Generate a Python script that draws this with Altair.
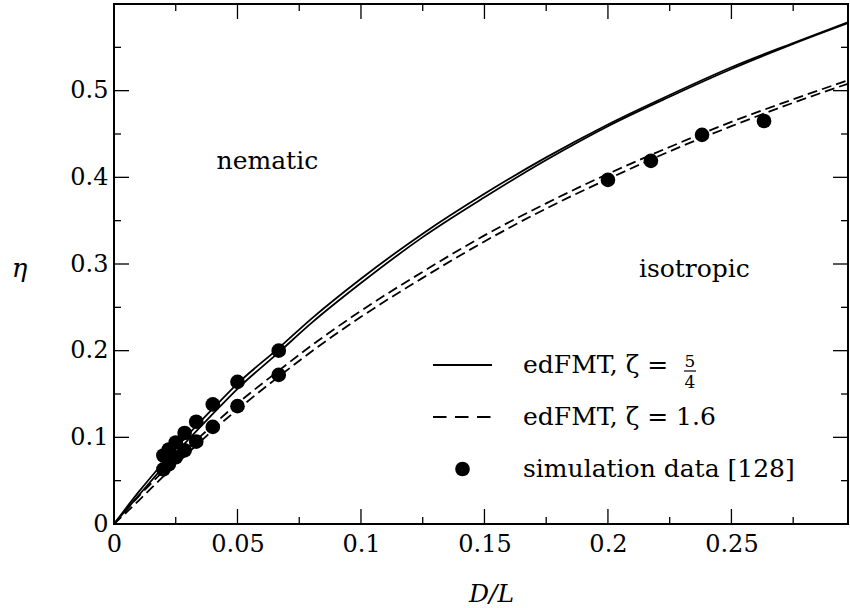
import altair as alt
import pandas as pd

# ---------------- data ----------------
x_grid = [0, 0.01, 0.02, 0.03, 0.04, 0.05, 0.0667, 0.08, 0.1, 0.125, 0.15,
          0.175, 0.2, 0.225, 0.25, 0.275, 0.2972]
solid_upper = [0, 0.037, 0.071, 0.103, 0.133, 0.162, 0.203, 0.237, 0.283, 0.335,
               0.381, 0.423, 0.461, 0.495, 0.527, 0.555, 0.579]
solid_lower = [0, 0.033, 0.066, 0.097, 0.127, 0.156, 0.198, 0.232, 0.278, 0.331,
               0.377, 0.420, 0.459, 0.493, 0.525, 0.554, 0.578]
dashed_upper = [0, 0.032, 0.061, 0.088, 0.114, 0.139, 0.177, 0.206, 0.246, 0.291,
                0.333, 0.370, 0.404, 0.435, 0.464, 0.490, 0.512]
dashed_lower = [0, 0.027, 0.055, 0.082, 0.108, 0.132, 0.170, 0.199, 0.239, 0.284,
                0.326, 0.364, 0.398, 0.430, 0.459, 0.486, 0.508]

sim_x = [0.0667, 0.05, 0.04, 0.0333, 0.0286, 0.025, 0.0222, 0.02,
         0.0667, 0.05, 0.04, 0.0333, 0.0286, 0.025, 0.0222, 0.02,
         0.2, 0.2174, 0.2381, 0.2632]
sim_y = [0.200, 0.164, 0.138, 0.118, 0.105, 0.094, 0.086, 0.079,
         0.172, 0.136, 0.112, 0.095, 0.085, 0.077, 0.069, 0.063,
         0.397, 0.419, 0.449, 0.465]

x_major = [0, 0.05, 0.1, 0.15, 0.2, 0.25]
x_minor = [0.025, 0.075, 0.125, 0.175, 0.225, 0.275]
y_major = [0, 0.1, 0.2, 0.3, 0.4, 0.5]
y_minor = [0.05, 0.15, 0.25, 0.35, 0.45, 0.55]

legend_labels = ["edFMT, ζ =", "edFMT, ζ = 1.6", "simulation data [128]"]
region_labels = ["nematic", "isotropic"]
region_x = [0.0621, 0.235]
region_y = [0.41, 0.285]

# ---------------- layout ----------------
W, H = 734, 520
FONT = "DejaVu Serif"
X_MAX = 0.2972

xs = alt.Scale(domain=[0, X_MAX], nice=False, zero=False)
ys = alt.Scale(domain=[0, 0.6], nice=False, zero=False)

xaxis = alt.Axis(values=x_major, format="~g", title="D/L", ticks=False, tickSize=0,
                 domain=False, grid=False, labelFont=FONT, labelFontSize=24,
                 labelColor="black", labelPadding=8, labelFlush=False,
                 labelOverlap=False, titleFont=FONT, titleFontSize=25,
                 titleFontStyle="italic", titleFontWeight="normal",
                 titleColor="black", titleY=77, titleX=377,
                 titleBaseline="alphabetic", titleAlign="center")
yaxis = alt.Axis(values=y_major, format="~g", title="η", ticks=False, tickSize=0,
                 domain=False, grid=False, labelFont=FONT, labelFontSize=24,
                 labelColor="black", labelPadding=6, labelFlush=False,
                 labelOverlap=False, titleFont=FONT, titleFontSize=26,
                 titleFontStyle="italic", titleFontWeight="normal",
                 titleColor="black", titleAngle=0, titleX=-95, titleY=264,
                 titleAlign="center", titleBaseline="middle")


def X(field):
    return alt.X(field, type="quantitative", scale=xs, axis=xaxis)


def Y(field):
    return alt.Y(field, type="quantitative", scale=ys, axis=yaxis)


curves = pd.DataFrame({
    "x": x_grid * 4,
    "y": solid_upper + solid_lower + dashed_upper + dashed_lower,
    "series": (["su"] * len(x_grid) + ["sl"] * len(x_grid)
               + ["du"] * len(x_grid) + ["dl"] * len(x_grid)),
})
solid_df = curves[curves.series.isin(["su", "sl"])]
dashed_df = curves[curves.series.isin(["du", "dl"])]

solid = alt.Chart(solid_df).mark_line(
    color="black", strokeWidth=1.8, interpolate="monotone", clip=True
).encode(x=X("x"), y=Y("y"), detail="series:N")

dashed = alt.Chart(dashed_df).mark_line(
    color="black", strokeWidth=1.8, interpolate="monotone", strokeDash=[10, 5], clip=True
).encode(x=X("x"), y=Y("y"), detail="series:N")

sim = alt.Chart(pd.DataFrame({"x": sim_x, "y": sim_y})).mark_point(
    shape="circle", filled=True, color="black", size=215, opacity=1
).encode(x=X("x"), y=Y("y"))

# ---- inward ticks on all four sides ----
xmaj = pd.DataFrame({"v": x_major})
xmin = pd.DataFrame({"v": x_minor})
ymaj = pd.DataFrame({"v": y_major})
ymin = pd.DataFrame({"v": y_minor})

def xticks(df, length):
    b = alt.Chart(df).mark_rule(color="black", strokeWidth=1.3).encode(
        x=X("v"), y=alt.value(H), y2=alt.value(H - length))
    t = alt.Chart(df).mark_rule(color="black", strokeWidth=1.3).encode(
        x=X("v"), y=alt.value(0), y2=alt.value(length))
    return [b, t]

def yticks(df, length):
    l = alt.Chart(df).mark_rule(color="black", strokeWidth=1.3).encode(
        y=Y("v"), x=alt.value(0), x2=alt.value(length))
    r = alt.Chart(df).mark_rule(color="black", strokeWidth=1.3).encode(
        y=Y("v"), x=alt.value(W), x2=alt.value(W - length))
    return [l, r]

tick_layers = xticks(xmaj, 15) + xticks(xmin, 7) + yticks(ymaj, 15) + yticks(ymin, 7)

# ---- region labels ----
regions = alt.Chart(pd.DataFrame({"x": region_x, "y": region_y, "t": region_labels})).mark_text(
    font=FONT, fontSize=25, color="black", align="center", baseline="alphabetic"
).encode(x=X("x"), y=Y("y"), text="t:N")

# ---- manual legend ----
one = pd.DataFrame({"a": [0]})
LX0, LX1 = 319, 378
TX = 409
rows = [361, 413, 465]
base = [369, 421, 473]

leg_solid = alt.Chart(one).mark_rule(color="black", strokeWidth=1.8).encode(
    x=alt.value(LX0), x2=alt.value(LX1), y=alt.value(rows[0]))
leg_dash = alt.Chart(one).mark_rule(color="black", strokeWidth=1.8, strokeDash=[13.5, 8.5]).encode(
    x=alt.value(LX0), x2=alt.value(LX1), y=alt.value(rows[1]))
leg_dot = alt.Chart(one).mark_point(shape="circle", filled=True, color="black", size=215, opacity=1).encode(
    x=alt.value((LX0 + LX1) / 2), y=alt.value(rows[2]))

leg_text = alt.Chart(pd.DataFrame({"t": legend_labels, "yy": base})).mark_text(
    font=FONT, fontSize=25, color="black", align="left", baseline="alphabetic"
).encode(x=alt.value(TX), y=alt.Y("yy:Q", scale=None), text="t:N")

FX = 576
frac_num = alt.Chart(pd.DataFrame({"t": ["5"]})).mark_text(
    font=FONT, fontSize=17, color="black", align="center", baseline="alphabetic"
).encode(x=alt.value(FX), y=alt.value(363), text="t:N")
frac_den = alt.Chart(pd.DataFrame({"t": ["4"]})).mark_text(
    font=FONT, fontSize=17, color="black", align="center", baseline="alphabetic"
).encode(x=alt.value(FX), y=alt.value(384), text="t:N")
frac_bar = alt.Chart(one).mark_rule(color="black", strokeWidth=1.2).encode(
    x=alt.value(FX - 6), x2=alt.value(FX + 6), y=alt.value(367))

chart = alt.layer(
    *tick_layers, dashed, solid, sim, regions,
    leg_solid, leg_dash, leg_dot, leg_text, frac_num, frac_den, frac_bar
).properties(
    width=W, height=H,
    autosize=alt.AutoSizeParams(type="none"),
    padding={"left": 114, "top": 4, "right": 2, "bottom": 84},
    background="white",
).configure_view(stroke="black", strokeWidth=2)

chart.save("out.html", embed_options={"renderer": "svg", "actions": False})
